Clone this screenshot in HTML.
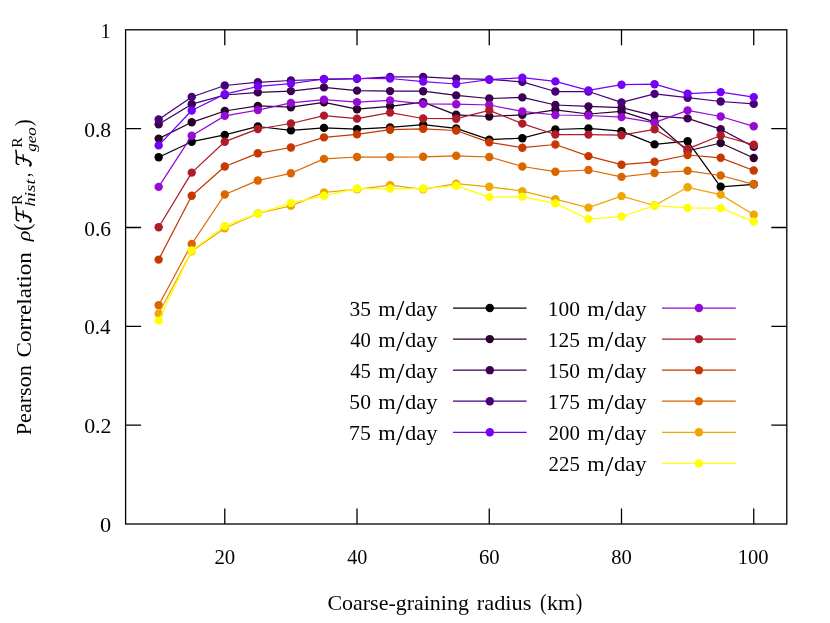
<!DOCTYPE html>
<html><head><meta charset="utf-8"><title>Pearson Correlation vs coarse-graining radius</title>
<style>html,body{margin:0;padding:0;background:#fff;}svg{display:block;}text{font-family:"Liberation Serif",serif;fill:#000;}</style></head><body>
<svg width="830" height="623" viewBox="0 0 830 623">
<rect width="830" height="623" fill="#fff"/>
<path d="M224.78 524.0V508.5M224.78 29.8V45.3M357.02 524.0V508.5M357.02 29.8V45.3M489.26 524.0V508.5M489.26 29.8V45.3M621.50 524.0V508.5M621.50 29.8V45.3M753.74 524.0V508.5M753.74 29.8V45.3M125.6 425.16H141.1M786.8 425.16H771.3M125.6 326.32H141.1M786.8 326.32H771.3M125.6 227.48H141.1M786.8 227.48H771.3M125.6 128.64H141.1M786.8 128.64H771.3" stroke="#000" stroke-width="1.3" fill="none"/>
<g stroke="#000000" fill="#000000"><polyline points="158.66,157.30 191.72,141.70 224.78,134.90 257.84,126.50 290.90,130.40 323.96,127.90 357.02,129.10 390.08,127.40 423.14,124.60 456.20,128.40 489.26,139.60 522.32,138.20 555.38,129.50 588.44,128.40 621.50,131.20 654.56,144.40 687.62,141.20 720.68,186.80 753.74,184.30" fill="none" stroke-width="1.25" stroke-linejoin="round"/>
<circle cx="158.66" cy="157.30" r="4.2" stroke="none"/><circle cx="191.72" cy="141.70" r="4.2" stroke="none"/><circle cx="224.78" cy="134.90" r="4.2" stroke="none"/><circle cx="257.84" cy="126.50" r="4.2" stroke="none"/><circle cx="290.90" cy="130.40" r="4.2" stroke="none"/><circle cx="323.96" cy="127.90" r="4.2" stroke="none"/><circle cx="357.02" cy="129.10" r="4.2" stroke="none"/><circle cx="390.08" cy="127.40" r="4.2" stroke="none"/><circle cx="423.14" cy="124.60" r="4.2" stroke="none"/><circle cx="456.20" cy="128.40" r="4.2" stroke="none"/><circle cx="489.26" cy="139.60" r="4.2" stroke="none"/><circle cx="522.32" cy="138.20" r="4.2" stroke="none"/><circle cx="555.38" cy="129.50" r="4.2" stroke="none"/><circle cx="588.44" cy="128.40" r="4.2" stroke="none"/><circle cx="621.50" cy="131.20" r="4.2" stroke="none"/><circle cx="654.56" cy="144.40" r="4.2" stroke="none"/><circle cx="687.62" cy="141.20" r="4.2" stroke="none"/><circle cx="720.68" cy="186.80" r="4.2" stroke="none"/><circle cx="753.74" cy="184.30" r="4.2" stroke="none"/>
</g>
<g stroke="#29002a" fill="#29002a"><polyline points="158.66,138.60 191.72,122.30 224.78,111.00 257.84,105.90 290.90,107.20 323.96,102.40 357.02,109.20 390.08,106.30 423.14,102.20 456.20,114.80 489.26,116.50 522.32,114.80 555.38,109.80 588.44,114.00 621.50,111.30 654.56,121.80 687.62,151.00 720.68,143.00 753.74,158.00" fill="none" stroke-width="1.25" stroke-linejoin="round"/>
<circle cx="158.66" cy="138.60" r="4.2" stroke="none"/><circle cx="191.72" cy="122.30" r="4.2" stroke="none"/><circle cx="224.78" cy="111.00" r="4.2" stroke="none"/><circle cx="257.84" cy="105.90" r="4.2" stroke="none"/><circle cx="290.90" cy="107.20" r="4.2" stroke="none"/><circle cx="323.96" cy="102.40" r="4.2" stroke="none"/><circle cx="357.02" cy="109.20" r="4.2" stroke="none"/><circle cx="390.08" cy="106.30" r="4.2" stroke="none"/><circle cx="423.14" cy="102.20" r="4.2" stroke="none"/><circle cx="456.20" cy="114.80" r="4.2" stroke="none"/><circle cx="489.26" cy="116.50" r="4.2" stroke="none"/><circle cx="522.32" cy="114.80" r="4.2" stroke="none"/><circle cx="555.38" cy="109.80" r="4.2" stroke="none"/><circle cx="588.44" cy="114.00" r="4.2" stroke="none"/><circle cx="621.50" cy="111.30" r="4.2" stroke="none"/><circle cx="654.56" cy="121.80" r="4.2" stroke="none"/><circle cx="687.62" cy="151.00" r="4.2" stroke="none"/><circle cx="720.68" cy="143.00" r="4.2" stroke="none"/><circle cx="753.74" cy="158.00" r="4.2" stroke="none"/>
</g>
<g stroke="#3b0053" fill="#3b0053"><polyline points="158.66,124.30 191.72,104.20 224.78,95.00 257.84,92.40 290.90,91.10 323.96,87.40 357.02,90.60 390.08,91.10 423.14,91.20 456.20,95.40 489.26,98.50 522.32,97.40 555.38,105.00 588.44,106.40 621.50,107.60 654.56,115.80 687.62,118.40 720.68,129.20 753.74,146.90" fill="none" stroke-width="1.25" stroke-linejoin="round"/>
<circle cx="158.66" cy="124.30" r="4.2" stroke="none"/><circle cx="191.72" cy="104.20" r="4.2" stroke="none"/><circle cx="224.78" cy="95.00" r="4.2" stroke="none"/><circle cx="257.84" cy="92.40" r="4.2" stroke="none"/><circle cx="290.90" cy="91.10" r="4.2" stroke="none"/><circle cx="323.96" cy="87.40" r="4.2" stroke="none"/><circle cx="357.02" cy="90.60" r="4.2" stroke="none"/><circle cx="390.08" cy="91.10" r="4.2" stroke="none"/><circle cx="423.14" cy="91.20" r="4.2" stroke="none"/><circle cx="456.20" cy="95.40" r="4.2" stroke="none"/><circle cx="489.26" cy="98.50" r="4.2" stroke="none"/><circle cx="522.32" cy="97.40" r="4.2" stroke="none"/><circle cx="555.38" cy="105.00" r="4.2" stroke="none"/><circle cx="588.44" cy="106.40" r="4.2" stroke="none"/><circle cx="621.50" cy="107.60" r="4.2" stroke="none"/><circle cx="654.56" cy="115.80" r="4.2" stroke="none"/><circle cx="687.62" cy="118.40" r="4.2" stroke="none"/><circle cx="720.68" cy="129.20" r="4.2" stroke="none"/><circle cx="753.74" cy="146.90" r="4.2" stroke="none"/>
</g>
<g stroke="#480079" fill="#480079"><polyline points="158.66,119.40 191.72,97.00 224.78,85.50 257.84,82.30 290.90,80.50 323.96,79.30 357.02,78.80 390.08,76.90 423.14,76.90 456.20,78.60 489.26,79.40 522.32,81.90 555.38,91.50 588.44,91.50 621.50,102.40 654.56,93.90 687.62,97.70 720.68,101.50 753.74,103.90" fill="none" stroke-width="1.25" stroke-linejoin="round"/>
<circle cx="158.66" cy="119.40" r="4.2" stroke="none"/><circle cx="191.72" cy="97.00" r="4.2" stroke="none"/><circle cx="224.78" cy="85.50" r="4.2" stroke="none"/><circle cx="257.84" cy="82.30" r="4.2" stroke="none"/><circle cx="290.90" cy="80.50" r="4.2" stroke="none"/><circle cx="323.96" cy="79.30" r="4.2" stroke="none"/><circle cx="357.02" cy="78.80" r="4.2" stroke="none"/><circle cx="390.08" cy="76.90" r="4.2" stroke="none"/><circle cx="423.14" cy="76.90" r="4.2" stroke="none"/><circle cx="456.20" cy="78.60" r="4.2" stroke="none"/><circle cx="489.26" cy="79.40" r="4.2" stroke="none"/><circle cx="522.32" cy="81.90" r="4.2" stroke="none"/><circle cx="555.38" cy="91.50" r="4.2" stroke="none"/><circle cx="588.44" cy="91.50" r="4.2" stroke="none"/><circle cx="621.50" cy="102.40" r="4.2" stroke="none"/><circle cx="654.56" cy="93.90" r="4.2" stroke="none"/><circle cx="687.62" cy="97.70" r="4.2" stroke="none"/><circle cx="720.68" cy="101.50" r="4.2" stroke="none"/><circle cx="753.74" cy="103.90" r="4.2" stroke="none"/>
</g>
<g stroke="#7502f7" fill="#7502f7"><polyline points="158.66,145.40 191.72,110.50 224.78,94.10 257.84,86.40 290.90,83.60 323.96,79.00 357.02,78.50 390.08,78.50 423.14,81.60 456.20,84.00 489.26,79.70 522.32,77.70 555.38,81.40 588.44,90.40 621.50,84.70 654.56,84.20 687.62,93.60 720.68,92.10 753.74,97.10" fill="none" stroke-width="1.25" stroke-linejoin="round"/>
<circle cx="158.66" cy="145.40" r="4.2" stroke="none"/><circle cx="191.72" cy="110.50" r="4.2" stroke="none"/><circle cx="224.78" cy="94.10" r="4.2" stroke="none"/><circle cx="257.84" cy="86.40" r="4.2" stroke="none"/><circle cx="290.90" cy="83.60" r="4.2" stroke="none"/><circle cx="323.96" cy="79.00" r="4.2" stroke="none"/><circle cx="357.02" cy="78.50" r="4.2" stroke="none"/><circle cx="390.08" cy="78.50" r="4.2" stroke="none"/><circle cx="423.14" cy="81.60" r="4.2" stroke="none"/><circle cx="456.20" cy="84.00" r="4.2" stroke="none"/><circle cx="489.26" cy="79.70" r="4.2" stroke="none"/><circle cx="522.32" cy="77.70" r="4.2" stroke="none"/><circle cx="555.38" cy="81.40" r="4.2" stroke="none"/><circle cx="588.44" cy="90.40" r="4.2" stroke="none"/><circle cx="621.50" cy="84.70" r="4.2" stroke="none"/><circle cx="654.56" cy="84.20" r="4.2" stroke="none"/><circle cx="687.62" cy="93.60" r="4.2" stroke="none"/><circle cx="720.68" cy="92.10" r="4.2" stroke="none"/><circle cx="753.74" cy="97.10" r="4.2" stroke="none"/>
</g>
<g stroke="#950ad5" fill="#950ad5"><polyline points="158.66,186.90 191.72,135.80 224.78,115.90 257.84,110.10 290.90,102.90 323.96,99.60 357.02,102.10 390.08,100.40 423.14,103.90 456.20,104.20 489.26,105.00 522.32,111.40 555.38,115.00 588.44,115.50 621.50,117.10 654.56,122.70 687.62,110.40 720.68,116.50 753.74,126.30" fill="none" stroke-width="1.25" stroke-linejoin="round"/>
<circle cx="158.66" cy="186.90" r="4.2" stroke="none"/><circle cx="191.72" cy="135.80" r="4.2" stroke="none"/><circle cx="224.78" cy="115.90" r="4.2" stroke="none"/><circle cx="257.84" cy="110.10" r="4.2" stroke="none"/><circle cx="290.90" cy="102.90" r="4.2" stroke="none"/><circle cx="323.96" cy="99.60" r="4.2" stroke="none"/><circle cx="357.02" cy="102.10" r="4.2" stroke="none"/><circle cx="390.08" cy="100.40" r="4.2" stroke="none"/><circle cx="423.14" cy="103.90" r="4.2" stroke="none"/><circle cx="456.20" cy="104.20" r="4.2" stroke="none"/><circle cx="489.26" cy="105.00" r="4.2" stroke="none"/><circle cx="522.32" cy="111.40" r="4.2" stroke="none"/><circle cx="555.38" cy="115.00" r="4.2" stroke="none"/><circle cx="588.44" cy="115.50" r="4.2" stroke="none"/><circle cx="621.50" cy="117.10" r="4.2" stroke="none"/><circle cx="654.56" cy="122.70" r="4.2" stroke="none"/><circle cx="687.62" cy="110.40" r="4.2" stroke="none"/><circle cx="720.68" cy="116.50" r="4.2" stroke="none"/><circle cx="753.74" cy="126.30" r="4.2" stroke="none"/>
</g>
<g stroke="#b01b2a" fill="#b01b2a"><polyline points="158.66,227.30 191.72,172.60 224.78,141.70 257.84,129.00 290.90,123.50 323.96,115.60 357.02,118.60 390.08,112.60 423.14,118.50 456.20,118.70 489.26,110.30 522.32,123.60 555.38,134.50 588.44,134.60 621.50,135.20 654.56,129.30 687.62,148.90 720.68,135.50 753.74,144.80" fill="none" stroke-width="1.25" stroke-linejoin="round"/>
<circle cx="158.66" cy="227.30" r="4.2" stroke="none"/><circle cx="191.72" cy="172.60" r="4.2" stroke="none"/><circle cx="224.78" cy="141.70" r="4.2" stroke="none"/><circle cx="257.84" cy="129.00" r="4.2" stroke="none"/><circle cx="290.90" cy="123.50" r="4.2" stroke="none"/><circle cx="323.96" cy="115.60" r="4.2" stroke="none"/><circle cx="357.02" cy="118.60" r="4.2" stroke="none"/><circle cx="390.08" cy="112.60" r="4.2" stroke="none"/><circle cx="423.14" cy="118.50" r="4.2" stroke="none"/><circle cx="456.20" cy="118.70" r="4.2" stroke="none"/><circle cx="489.26" cy="110.30" r="4.2" stroke="none"/><circle cx="522.32" cy="123.60" r="4.2" stroke="none"/><circle cx="555.38" cy="134.50" r="4.2" stroke="none"/><circle cx="588.44" cy="134.60" r="4.2" stroke="none"/><circle cx="621.50" cy="135.20" r="4.2" stroke="none"/><circle cx="654.56" cy="129.30" r="4.2" stroke="none"/><circle cx="687.62" cy="148.90" r="4.2" stroke="none"/><circle cx="720.68" cy="135.50" r="4.2" stroke="none"/><circle cx="753.74" cy="144.80" r="4.2" stroke="none"/>
</g>
<g stroke="#c63900" fill="#c63900"><polyline points="158.66,259.60 191.72,195.70 224.78,166.50 257.84,153.30 290.90,147.50 323.96,137.40 357.02,134.40 390.08,129.70 423.14,128.80 456.20,130.50 489.26,142.30 522.32,147.70 555.38,144.50 588.44,156.10 621.50,164.70 654.56,161.80 687.62,155.00 720.68,157.80 753.74,170.50" fill="none" stroke-width="1.25" stroke-linejoin="round"/>
<circle cx="158.66" cy="259.60" r="4.2" stroke="none"/><circle cx="191.72" cy="195.70" r="4.2" stroke="none"/><circle cx="224.78" cy="166.50" r="4.2" stroke="none"/><circle cx="257.84" cy="153.30" r="4.2" stroke="none"/><circle cx="290.90" cy="147.50" r="4.2" stroke="none"/><circle cx="323.96" cy="137.40" r="4.2" stroke="none"/><circle cx="357.02" cy="134.40" r="4.2" stroke="none"/><circle cx="390.08" cy="129.70" r="4.2" stroke="none"/><circle cx="423.14" cy="128.80" r="4.2" stroke="none"/><circle cx="456.20" cy="130.50" r="4.2" stroke="none"/><circle cx="489.26" cy="142.30" r="4.2" stroke="none"/><circle cx="522.32" cy="147.70" r="4.2" stroke="none"/><circle cx="555.38" cy="144.50" r="4.2" stroke="none"/><circle cx="588.44" cy="156.10" r="4.2" stroke="none"/><circle cx="621.50" cy="164.70" r="4.2" stroke="none"/><circle cx="654.56" cy="161.80" r="4.2" stroke="none"/><circle cx="687.62" cy="155.00" r="4.2" stroke="none"/><circle cx="720.68" cy="157.80" r="4.2" stroke="none"/><circle cx="753.74" cy="170.50" r="4.2" stroke="none"/>
</g>
<g stroke="#db6600" fill="#db6600"><polyline points="158.66,305.30 191.72,244.00 224.78,194.50 257.84,180.50 290.90,173.30 323.96,158.90 357.02,157.00 390.08,157.00 423.14,156.80 456.20,155.80 489.26,157.00 522.32,166.50 555.38,171.70 588.44,170.00 621.50,176.90 654.56,173.00 687.62,170.80 720.68,175.50 753.74,184.30" fill="none" stroke-width="1.25" stroke-linejoin="round"/>
<circle cx="158.66" cy="305.30" r="4.2" stroke="none"/><circle cx="191.72" cy="244.00" r="4.2" stroke="none"/><circle cx="224.78" cy="194.50" r="4.2" stroke="none"/><circle cx="257.84" cy="180.50" r="4.2" stroke="none"/><circle cx="290.90" cy="173.30" r="4.2" stroke="none"/><circle cx="323.96" cy="158.90" r="4.2" stroke="none"/><circle cx="357.02" cy="157.00" r="4.2" stroke="none"/><circle cx="390.08" cy="157.00" r="4.2" stroke="none"/><circle cx="423.14" cy="156.80" r="4.2" stroke="none"/><circle cx="456.20" cy="155.80" r="4.2" stroke="none"/><circle cx="489.26" cy="157.00" r="4.2" stroke="none"/><circle cx="522.32" cy="166.50" r="4.2" stroke="none"/><circle cx="555.38" cy="171.70" r="4.2" stroke="none"/><circle cx="588.44" cy="170.00" r="4.2" stroke="none"/><circle cx="621.50" cy="176.90" r="4.2" stroke="none"/><circle cx="654.56" cy="173.00" r="4.2" stroke="none"/><circle cx="687.62" cy="170.80" r="4.2" stroke="none"/><circle cx="720.68" cy="175.50" r="4.2" stroke="none"/><circle cx="753.74" cy="184.30" r="4.2" stroke="none"/>
</g>
<g stroke="#eea700" fill="#eea700"><polyline points="158.66,313.80 191.72,251.20 224.78,228.30 257.84,213.50 290.90,205.90 323.96,192.40 357.02,189.40 390.08,185.10 423.14,189.40 456.20,183.60 489.26,186.80 522.32,191.10 555.38,199.20 588.44,207.60 621.50,196.10 654.56,205.50 687.62,187.30 720.68,194.60 753.74,214.80" fill="none" stroke-width="1.25" stroke-linejoin="round"/>
<circle cx="158.66" cy="313.80" r="4.2" stroke="none"/><circle cx="191.72" cy="251.20" r="4.2" stroke="none"/><circle cx="224.78" cy="228.30" r="4.2" stroke="none"/><circle cx="257.84" cy="213.50" r="4.2" stroke="none"/><circle cx="290.90" cy="205.90" r="4.2" stroke="none"/><circle cx="323.96" cy="192.40" r="4.2" stroke="none"/><circle cx="357.02" cy="189.40" r="4.2" stroke="none"/><circle cx="390.08" cy="185.10" r="4.2" stroke="none"/><circle cx="423.14" cy="189.40" r="4.2" stroke="none"/><circle cx="456.20" cy="183.60" r="4.2" stroke="none"/><circle cx="489.26" cy="186.80" r="4.2" stroke="none"/><circle cx="522.32" cy="191.10" r="4.2" stroke="none"/><circle cx="555.38" cy="199.20" r="4.2" stroke="none"/><circle cx="588.44" cy="207.60" r="4.2" stroke="none"/><circle cx="621.50" cy="196.10" r="4.2" stroke="none"/><circle cx="654.56" cy="205.50" r="4.2" stroke="none"/><circle cx="687.62" cy="187.30" r="4.2" stroke="none"/><circle cx="720.68" cy="194.60" r="4.2" stroke="none"/><circle cx="753.74" cy="214.80" r="4.2" stroke="none"/>
</g>
<g stroke="#ffff00" fill="#ffff00"><polyline points="158.66,320.60 191.72,250.50 224.78,226.00 257.84,213.60 290.90,202.90 323.96,195.80 357.02,188.50 390.08,188.50 423.14,188.50 456.20,185.70 489.26,197.10 522.32,196.60 555.38,203.40 588.44,219.10 621.50,216.50 654.56,205.60 687.62,207.90 720.68,208.10 753.74,221.60" fill="none" stroke-width="1.25" stroke-linejoin="round"/>
<circle cx="158.66" cy="320.60" r="4.2" stroke="none"/><circle cx="191.72" cy="250.50" r="4.2" stroke="none"/><circle cx="224.78" cy="226.00" r="4.2" stroke="none"/><circle cx="257.84" cy="213.60" r="4.2" stroke="none"/><circle cx="290.90" cy="202.90" r="4.2" stroke="none"/><circle cx="323.96" cy="195.80" r="4.2" stroke="none"/><circle cx="357.02" cy="188.50" r="4.2" stroke="none"/><circle cx="390.08" cy="188.50" r="4.2" stroke="none"/><circle cx="423.14" cy="188.50" r="4.2" stroke="none"/><circle cx="456.20" cy="185.70" r="4.2" stroke="none"/><circle cx="489.26" cy="197.10" r="4.2" stroke="none"/><circle cx="522.32" cy="196.60" r="4.2" stroke="none"/><circle cx="555.38" cy="203.40" r="4.2" stroke="none"/><circle cx="588.44" cy="219.10" r="4.2" stroke="none"/><circle cx="621.50" cy="216.50" r="4.2" stroke="none"/><circle cx="654.56" cy="205.60" r="4.2" stroke="none"/><circle cx="687.62" cy="207.90" r="4.2" stroke="none"/><circle cx="720.68" cy="208.10" r="4.2" stroke="none"/><circle cx="753.74" cy="221.60" r="4.2" stroke="none"/>
</g>
<path d="M453.0 308.00H526.6" stroke="#000000" stroke-width="1.25"/><circle cx="489.80" cy="308.00" r="4.2" fill="#000000"/>
<path d="M453.0 339.08H526.6" stroke="#29002a" stroke-width="1.25"/><circle cx="489.80" cy="339.08" r="4.2" fill="#29002a"/>
<path d="M453.0 370.16H526.6" stroke="#3b0053" stroke-width="1.25"/><circle cx="489.80" cy="370.16" r="4.2" fill="#3b0053"/>
<path d="M453.0 401.24H526.6" stroke="#480079" stroke-width="1.25"/><circle cx="489.80" cy="401.24" r="4.2" fill="#480079"/>
<path d="M453.0 432.32H526.6" stroke="#7502f7" stroke-width="1.25"/><circle cx="489.80" cy="432.32" r="4.2" fill="#7502f7"/>
<path d="M662.0 308.00H735.8" stroke="#950ad5" stroke-width="1.25"/><circle cx="698.90" cy="308.00" r="4.2" fill="#950ad5"/>
<path d="M662.0 339.08H735.8" stroke="#b01b2a" stroke-width="1.25"/><circle cx="698.90" cy="339.08" r="4.2" fill="#b01b2a"/>
<path d="M662.0 370.16H735.8" stroke="#c63900" stroke-width="1.25"/><circle cx="698.90" cy="370.16" r="4.2" fill="#c63900"/>
<path d="M662.0 401.24H735.8" stroke="#db6600" stroke-width="1.25"/><circle cx="698.90" cy="401.24" r="4.2" fill="#db6600"/>
<path d="M662.0 432.32H735.8" stroke="#eea700" stroke-width="1.25"/><circle cx="698.90" cy="432.32" r="4.2" fill="#eea700"/>
<path d="M662.0 463.40H735.8" stroke="#ffff00" stroke-width="1.25"/><circle cx="698.90" cy="463.40" r="4.2" fill="#ffff00"/>
<rect x="125.6" y="29.8" width="661.20" height="494.20" fill="none" stroke="#000" stroke-width="1.3"/>
<g opacity="0.995">
<text transform="matrix(0.9273 0 0 1.0286 100.70 38.30)" font-size="21">1</text>
<text transform="matrix(1.0297 0 0 0.9931 84.14 136.81)" font-size="21">0.8</text>
<text transform="matrix(1.0228 0 0 0.9931 84.15 235.65)" font-size="21">0.6</text>
<text transform="matrix(1.0093 0 0 0.9931 84.16 334.49)" font-size="21">0.4</text>
<text transform="matrix(1.0438 0 0 0.9931 84.13 433.33)" font-size="21">0.2</text>
<text transform="matrix(1.0642 0 0 1.0047 100.11 532.33)" font-size="21">0</text>
<text transform="matrix(0.9913 0 0 0.9907 214.39 563.63)" font-size="21">20</text>
<text transform="matrix(0.9580 0 0 0.9907 347.30 563.63)" font-size="21">40</text>
<text transform="matrix(0.9828 0 0 0.9907 479.04 563.63)" font-size="21">60</text>
<text transform="matrix(0.9828 0 0 0.9907 611.28 563.63)" font-size="21">80</text>
<text transform="matrix(0.9780 0 0 0.9907 737.81 563.63)" font-size="21">100</text>
<text transform="matrix(1.0463 0 0 1.0200 327.43 610.00)" font-size="21">Coarse-graining</text>
<text transform="matrix(1.0660 0 0 1.0200 476.77 610.00)" font-size="21">radius</text>
<text transform="matrix(0.9375 0 0 1.0539 539.96 609.86)" font-size="21">(</text>
<text transform="matrix(1.0471 0 0 1.0200 547.05 610.00)" font-size="21">km</text>
<text transform="matrix(0.9375 0 0 1.0539 575.67 609.86)" font-size="21">)</text>
<text transform="matrix(1.0226 0 0 1.0000 349.48 315.80)" font-size="21">35</text>
<text transform="matrix(1.0645 0 0 0.9700 378.17 315.80)" font-size="21">m</text>
<text transform="matrix(1.4400 0 0 1.4047 395.90 320.37)" font-size="21">/</text>
<text transform="matrix(1.0746 0 0 1.0200 404.90 315.80)" font-size="21">day</text>
<text transform="matrix(0.9882 0 0 1.0000 350.17 346.88)" font-size="21">40</text>
<text transform="matrix(1.0645 0 0 0.9700 378.17 346.88)" font-size="21">m</text>
<text transform="matrix(1.4400 0 0 1.4047 395.90 351.45)" font-size="21">/</text>
<text transform="matrix(1.0746 0 0 1.0200 404.90 346.88)" font-size="21">day</text>
<text transform="matrix(0.9882 0 0 1.0000 350.17 377.96)" font-size="21">45</text>
<text transform="matrix(1.0645 0 0 0.9700 378.17 377.96)" font-size="21">m</text>
<text transform="matrix(1.4400 0 0 1.4047 395.90 382.53)" font-size="21">/</text>
<text transform="matrix(1.0746 0 0 1.0200 404.90 377.96)" font-size="21">day</text>
<text transform="matrix(1.0316 0 0 1.0000 349.30 409.04)" font-size="21">50</text>
<text transform="matrix(1.0645 0 0 0.9700 378.17 409.04)" font-size="21">m</text>
<text transform="matrix(1.4400 0 0 1.4047 395.90 413.61)" font-size="21">/</text>
<text transform="matrix(1.0746 0 0 1.0200 404.90 409.04)" font-size="21">day</text>
<text transform="matrix(1.0407 0 0 1.0000 349.11 440.12)" font-size="21">75</text>
<text transform="matrix(1.0645 0 0 0.9700 378.17 440.12)" font-size="21">m</text>
<text transform="matrix(1.4400 0 0 1.4047 395.90 444.69)" font-size="21">/</text>
<text transform="matrix(1.0746 0 0 1.0200 404.90 440.12)" font-size="21">day</text>
<text transform="matrix(1.0231 0 0 1.0000 547.72 315.80)" font-size="21">100</text>
<text transform="matrix(1.0645 0 0 0.9700 587.17 315.80)" font-size="21">m</text>
<text transform="matrix(1.4400 0 0 1.4047 604.90 320.37)" font-size="21">/</text>
<text transform="matrix(1.0746 0 0 1.0200 613.90 315.80)" font-size="21">day</text>
<text transform="matrix(1.0231 0 0 1.0000 547.72 346.88)" font-size="21">125</text>
<text transform="matrix(1.0645 0 0 0.9700 587.17 346.88)" font-size="21">m</text>
<text transform="matrix(1.4400 0 0 1.4047 604.90 351.45)" font-size="21">/</text>
<text transform="matrix(1.0746 0 0 1.0200 613.90 346.88)" font-size="21">day</text>
<text transform="matrix(1.0231 0 0 1.0000 547.72 377.96)" font-size="21">150</text>
<text transform="matrix(1.0645 0 0 0.9700 587.17 377.96)" font-size="21">m</text>
<text transform="matrix(1.4400 0 0 1.4047 604.90 382.53)" font-size="21">/</text>
<text transform="matrix(1.0746 0 0 1.0200 613.90 377.96)" font-size="21">day</text>
<text transform="matrix(1.0231 0 0 1.0000 547.72 409.04)" font-size="21">175</text>
<text transform="matrix(1.0645 0 0 0.9700 587.17 409.04)" font-size="21">m</text>
<text transform="matrix(1.4400 0 0 1.4047 604.90 413.61)" font-size="21">/</text>
<text transform="matrix(1.0746 0 0 1.0200 613.90 409.04)" font-size="21">day</text>
<text transform="matrix(0.9944 0 0 1.0000 548.61 440.12)" font-size="21">200</text>
<text transform="matrix(1.0645 0 0 0.9700 587.17 440.12)" font-size="21">m</text>
<text transform="matrix(1.4400 0 0 1.4047 604.90 444.69)" font-size="21">/</text>
<text transform="matrix(1.0746 0 0 1.0200 613.90 440.12)" font-size="21">day</text>
<text transform="matrix(0.9944 0 0 1.0000 548.61 471.20)" font-size="21">225</text>
<text transform="matrix(1.0645 0 0 0.9700 587.17 471.20)" font-size="21">m</text>
<text transform="matrix(1.4400 0 0 1.4047 604.90 475.77)" font-size="21">/</text>
<text transform="matrix(1.0746 0 0 1.0200 613.90 471.20)" font-size="21">day</text>
</g>
<defs><filter id="gs" x="0" y="0" width="830" height="623" filterUnits="userSpaceOnUse"><feOffset dx="0" dy="0"/></filter></defs>
<g filter="url(#gs)"><g transform="translate(31.3 435) rotate(-90)">
<text transform="matrix(1.0534 0 0 1.0400 -0.20 0.00)" font-size="21">Pearson</text>
<text transform="matrix(1.1016 0 0 1.0400 77.58 0.00)" font-size="21">Correlation</text>
<text transform="matrix(1.0600 0 0 0.9310 193.73 -0.89)" font-size="21" font-style="italic">ρ</text>
<text transform="matrix(1.0125 0 0 1.1009 204.19 -0.85)" font-size="21">(</text>
<text transform="matrix(1.0800 0 0 0.9474 229.96 -9.60)" font-size="14.5">R</text>
<text transform="matrix(1.3161 0 0 0.9738 228.24 3.94)" font-size="14.5" font-style="italic">hist</text>
<text transform="matrix(0.7895 0 0 0.9562 257.94 -0.93)" font-size="21">,</text>
<text transform="matrix(1.0582 0 0 0.9474 287.37 -9.50)" font-size="14.5">R</text>
<text transform="matrix(1.1756 0 0 0.9700 283.30 4.23)" font-size="14.5" font-style="italic">geo</text>
<text transform="matrix(0.9938 0 0 1.1009 308.84 -0.75)" font-size="21">)</text>
<g transform="translate(211.7 0)"><path d="M2.6,-12.6 C2.7,-14.6 3.8,-15.2 5.6,-15.0 C9.5,-14.5 12.5,-14.3 16.9,-15.4" fill="none" stroke="#000" stroke-width="1.5" stroke-linecap="round"/><path d="M10.0,-14.6 C9.3,-10.5 8.1,-6.3 6.6,-3.3 C5.4,-0.9 3.5,0.1 1.6,-0.7" fill="none" stroke="#000" stroke-width="1.85" stroke-linecap="round"/><circle cx="1.7" cy="-1.3" r="1.15" fill="#000"/><path d="M5.6,-7.7 L12.6,-8.3" fill="none" stroke="#000" stroke-width="1.2" stroke-linecap="round"/></g>
<g transform="translate(267.9 0)"><path d="M2.6,-12.6 C2.7,-14.6 3.8,-15.2 5.6,-15.0 C9.5,-14.5 12.5,-14.3 16.9,-15.4" fill="none" stroke="#000" stroke-width="1.5" stroke-linecap="round"/><path d="M10.0,-14.6 C9.3,-10.5 8.1,-6.3 6.6,-3.3 C5.4,-0.9 3.5,0.1 1.6,-0.7" fill="none" stroke="#000" stroke-width="1.85" stroke-linecap="round"/><circle cx="1.7" cy="-1.3" r="1.15" fill="#000"/><path d="M5.6,-7.7 L12.6,-8.3" fill="none" stroke="#000" stroke-width="1.2" stroke-linecap="round"/></g>
</g></g>
</svg></body></html>
